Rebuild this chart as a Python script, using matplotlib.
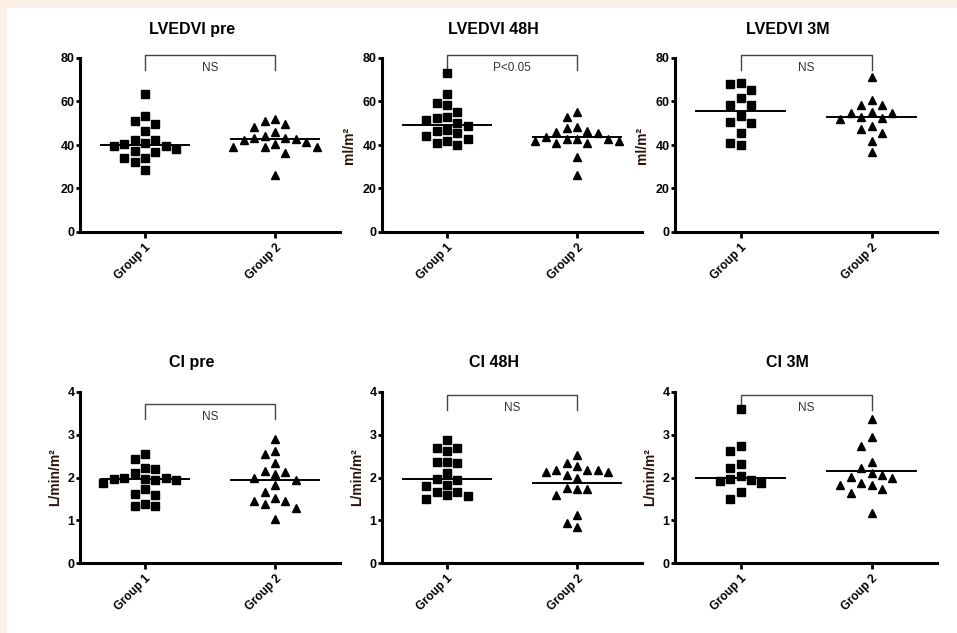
import numpy as np
import matplotlib.pyplot as plt
from matplotlib.patches import Rectangle

plt.rcParams['font.family'] = ['Liberation Sans', 'DejaVu Sans']

titles = ['LVEDVI pre', 'LVEDVI 48H', 'LVEDVI 3M', 'CI pre', 'CI 48H', 'CI 3M']
groups = ['Group 1', 'Group 2']
ylabels = [None, 'ml/m²', 'ml/m²', 'L/min/m²', 'L/min/m²', 'L/min/m²']
pvals = ['NS', 'P<0.05', 'NS', 'NS', 'NS', 'NS']

# values
lvedvi_pre_g1 = [63.5, 53.4, 49.7, 51.2, 46.5, 42.2, 41.0, 42.2, 40.3, 37.2,
                 39.5, 39.5, 38.0, 36.9, 33.8, 33.8, 32.0, 28.5]
lvedvi_pre_g2 = [48.5, 51.2, 52.0, 49.7, 46.0, 43.0, 43.0, 39.2, 38.9, 42.3,
                 36.2, 41.5, 39.2, 42.6, 40.5, 44.2, 26.2]
lvedvi_48h_g1 = [73.0, 63.5, 58.5, 59.2, 55.4, 52.6, 53.0, 51.5, 50.3, 48.6,
                 46.5, 47.0, 45.4, 44.2, 42.0, 42.8, 40.0, 40.8]
lvedvi_48h_g2 = [55.4, 52.8, 48.2, 47.7, 46.5, 45.4, 45.8, 42.9, 42.6, 42.0,
                 40.8, 40.8, 42.0, 42.6, 34.3, 26.2, 43.5]
lvedvi_3m_g1 = [68.5, 68.0, 65.4, 61.5, 58.5, 58.5, 53.4, 50.0, 50.8, 45.4,
                40.0, 40.8]
lvedvi_3m_g2 = [71.2, 58.5, 58.5, 60.5, 55.0, 53.0, 52.0, 52.3, 54.6, 54.6,
                47.4, 45.7, 48.8, 42.0, 37.0]
ci_pre_g1 = [2.54, 2.44, 2.23, 2.21, 2.10, 2.00, 1.97, 1.95, 1.86, 1.95,
             1.97, 2.00, 1.72, 1.62, 1.58, 1.39, 1.33, 1.33]
ci_pre_g2 = [2.89, 2.61, 2.54, 2.34, 2.14, 2.15, 2.09, 1.99, 1.93, 1.83,
             1.66, 1.53, 1.45, 1.37, 1.45, 1.29, 1.04]
ci_48h_g1 = [2.87, 2.61, 2.70, 2.70, 2.36, 2.36, 2.34, 2.10, 1.97, 1.83,
             1.79, 1.93, 1.66, 1.58, 1.50, 1.56, 1.66]
ci_48h_g2 = [2.52, 2.26, 2.34, 2.17, 2.13, 2.05, 1.99, 2.14, 2.17, 2.18,
             1.74, 1.74, 1.76, 1.58, 1.13, 0.84, 0.94]
ci_3m_g1 = [3.61, 2.74, 2.61, 2.32, 2.23, 1.97, 1.92, 1.87, 1.93, 2.03,
            1.65, 1.49]
ci_3m_g2 = [3.36, 2.95, 2.73, 2.36, 2.23, 2.07, 1.99, 2.01, 2.11, 1.83,
            1.74, 1.83, 1.87, 1.64, 1.17]

# centre lines as drawn in the figure
center_g1 = [40.0, 49.2, 55.7, 1.96, 1.96, 1.99]
center_g2 = [42.6, 43.5, 53.0, 1.93, 1.86, 2.15]

data = [(lvedvi_pre_g1, lvedvi_pre_g2), (lvedvi_48h_g1, lvedvi_48h_g2),
        (lvedvi_3m_g1, lvedvi_3m_g2), (ci_pre_g1, ci_pre_g2),
        (ci_48h_g1, ci_48h_g2), (ci_3m_g1, ci_3m_g2)]

bracket_top = [81.5, 81.5, 81.5, 3.72, 3.93, 3.93]


def swarm(vals, center, step, min_dy):
    # greedy beeswarm on a column grid, top values first
    vals = np.asarray(vals, float)
    xs = np.zeros(len(vals))
    placed = []
    for i in np.argsort(-vals):
        v = vals[i]
        k = 0
        done = False
        while not done:
            cols = [0] if k == 0 else [-k, k]
            for c in cols:
                if all(pc != c or abs(v - py) >= min_dy for pc, py in placed):
                    placed.append((c, v))
                    xs[i] = center + c * step
                    done = True
                    break
            k += 1
    return xs


fig = plt.figure(figsize=(9.57, 6.33), dpi=100)
fig.patch.set_facecolor('#fcefe6')
fig.patches.append(Rectangle((7 / 957, 0), 1, 1 - 8 / 633, transform=fig.transFigure,
                             facecolor='white', edgecolor='none', zorder=-10))

lefts = [80, 382, 675]
widths = [260, 260, 262]
rows = [(58, 232), (392, 563)]

for n in range(6):
    r, c = divmod(n, 3)
    top_px, bot_px = rows[r]
    ax = fig.add_axes([lefts[c] / 957, 1 - bot_px / 633,
                       widths[c] / 957, (bot_px - top_px) / 633])
    ymax = 80 if r == 0 else 4
    ax.set_xlim(0.5, 2.5)
    ax.set_ylim(0, ymax)
    ax_h = bot_px - top_px
    min_dy = 10.5 * ymax / ax_h

    g1, g2 = data[n]
    lines = [center_g1[n], center_g2[n]]
    for j, (vals, mk, ms) in enumerate([(g1, 's', 5.6), (g2, '^', 6.0)]):
        pos = j + 1
        xs = swarm(vals, pos, 0.08, min_dy)
        ax.plot(xs, vals, linestyle='none', marker=mk, ms=ms, color='black',
                clip_on=False, zorder=3)
        ax.plot([pos - 0.34, pos + 0.34], [lines[j]] * 2, color='black',
                lw=1.4, zorder=2)

    # significance bracket
    top = bracket_top[n]
    leg = top - 0.09 * ymax
    ax.plot([1, 1, 2, 2], [leg, top, top, leg], color='#444444', lw=1.0,
            clip_on=False)
    ax.text(1.5, top - 0.075 * ymax, pvals[n], ha='center', va='center',
            fontsize=8.5, color='#333333')

    ax.set_title(titles[n], x=0.43, y=1.0, pad=17 if r == 0 else 18,
                 fontsize=11.5, fontweight='bold')

    for s in ['top', 'right']:
        ax.spines[s].set_visible(False)
    for s in ['left', 'bottom']:
        ax.spines[s].set_linewidth(2.2)
    ax.set_yticks(np.linspace(0, ymax, 5))
    ax.set_yticklabels([f'{int(t)}' for t in np.linspace(0, ymax, 5)],
                       fontsize=9, fontweight='bold')
    ax.set_xticks([1, 2])
    ax.set_xticklabels(groups, rotation=45, ha='right', rotation_mode='anchor',
                       fontsize=8.5, fontweight='bold')
    ax.tick_params(axis='y', length=3, width=2, pad=1)
    ax.tick_params(axis='x', length=4, width=2, pad=3)
    if ylabels[n]:
        ax.set_ylabel(ylabels[n], fontsize=10, fontweight='bold', color='#2b1208')
        ax.yaxis.set_label_coords(-0.1 if r == 0 else -0.07, 0.5)

fig.savefig('out.png', dpi=100, facecolor=fig.get_facecolor())
